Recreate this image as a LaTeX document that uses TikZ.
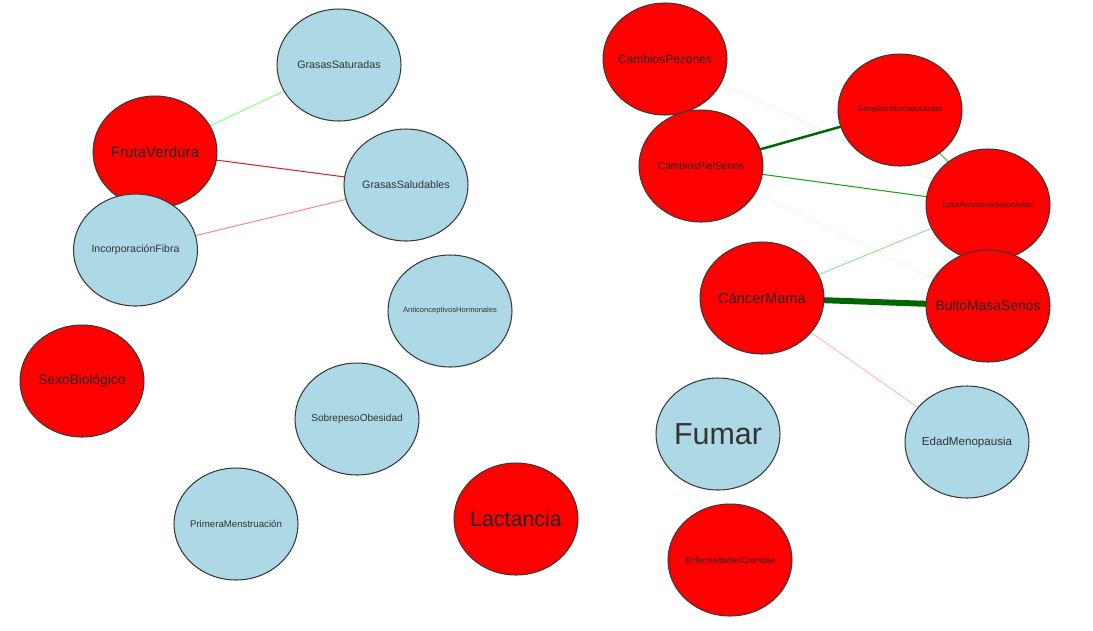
\documentclass[tikz,border=0pt]{standalone}
\usepackage{fontspec}
\setmainfont{Liberation Sans}
\usepackage{tikz}
\usetikzlibrary{shapes.geometric}
\pgfdeclarelayer{background}
\pgfsetlayers{background,main}

\definecolor{nodered}{HTML}{FF0000}
\definecolor{nodeblue}{HTML}{ADD8E6}
\definecolor{rim}{HTML}{3A3A3A}

\newcommand{\fsz}[1]{\fontsize{#1}{#1}\selectfont}
\newcommand{\nm}[1]{\makebox[0pt]{#1}}

\begin{document}
\begin{tikzpicture}[x=0.02cm, y=-0.02cm,
	factor/.style={ellipse, draw=rim, line width=0.6pt, inner sep=0pt,
		minimum width=2.48cm, minimum height=2.24cm, text=black!85},
	riskn/.style={factor, fill=nodered},
	infon/.style={factor, fill=nodeblue, text=black!80},
	link/.style={line width=0.6pt}]

\useasboundingbox (0,0) rectangle (1093,630);

	% left group
	\node[infon, font=\fsz{6.1}] (satur) at (339,65) {\nm{GrasasSaturadas}};
	\node[riskn, font=\fsz{8.6}] (fruta) at (155,152) {\nm{FrutaVerdura}};
	\node[infon, font=\fsz{6.1}] (salud) at (406,185) {\nm{GrasasSaludables}};
	\node[infon, font=\fsz{6.0}] (fibra) at (135.5,250) {\nm{IncorporaciónFibra}};
	\node[infon, font=\fsz{4.3}] (antic) at (450,311) {\nm{AnticonceptivosHormonales}};
	\node[riskn, font=\fsz{7.8}] (sexo) at (82,381) {\nm{SexoBiológico}};
	\node[infon, font=\fsz{5.7}] (sobre) at (357,419) {\nm{SobrepesoObesidad}};
	\node[infon, font=\fsz{5.5}] (mens) at (236,524) {\nm{PrimeraMenstruación}};
	\node[riskn, font=\fsz{12.2}] (lact) at (516,519) {\nm{Lactancia}};

	% right group
	\node[riskn, font=\fsz{6.8}] (pezon) at (665,59) {\nm{CambiosPezones}};
	\node[riskn, font=\fsz{4.2}] (gangl) at (900,110) {\nm{GangliosInflamadosAxilas}};
	\node[riskn, font=\fsz{5.8}] (piel) at (701,166) {\nm{CambiosPielSenos}};
	\node[riskn, font=\fsz{4.0}] (dolor) at (988,205) {\nm{DolorPersistenteSenosAxilas}};
	\node[riskn, font=\fsz{8.3}] (cancer) at (762,298) {\nm{CáncerMama}};
	\node[riskn, font=\fsz{7.9}] (bulto) at (988,306) {\nm{BultoMasaSenos}};
	\node[infon, font=\fsz{17.3}] (fumar) at (718,434) {\nm{Fumar}};
	\node[infon, font=\fsz{6.6}] (edad) at (967,442) {\nm{EdadMenopausia}};
	\node[riskn, font=\fsz{4.9}] (cronic) at (730,560) {\nm{EnfermedadesCrónicas}};

	% links under the circles
	\begin{pgfonlayer}{background}
	\draw[link, color=green!45!white] (fruta.center) -- (satur.center);
	\draw[link, color=red!80!black!85!white] (fruta.center) -- (salud.center);
	\draw[link, color=red!45!white] (fibra.center) -- (salud.center);

	\draw[link, color=green!10!white] (pezon.center) -- (dolor.center);
	\draw[link, color=green!10!white] (piel.center) -- (bulto.center);
	\draw[link, color=green!10!white] (gangl.center) -- (bulto.center);
	\draw[line width=1.4pt, color=green!40!black] (piel.center) -- (gangl.center);
	\draw[link, color=green!60!black!90!white] (piel.center) -- (dolor.center);
	\draw[line width=0.9pt, color=green!55!black!50!white] (gangl.center) -- (dolor.center);
	\draw[link, color=green!60!black!35!white] (cancer.center) -- (dolor.center);
	\draw[line width=3.4pt, color=green!40!black] (cancer.center) -- (bulto.center);
	\draw[link, color=red!25!white] (cancer.center) -- (edad.center);
	\end{pgfonlayer}

\end{tikzpicture}
\end{document}
